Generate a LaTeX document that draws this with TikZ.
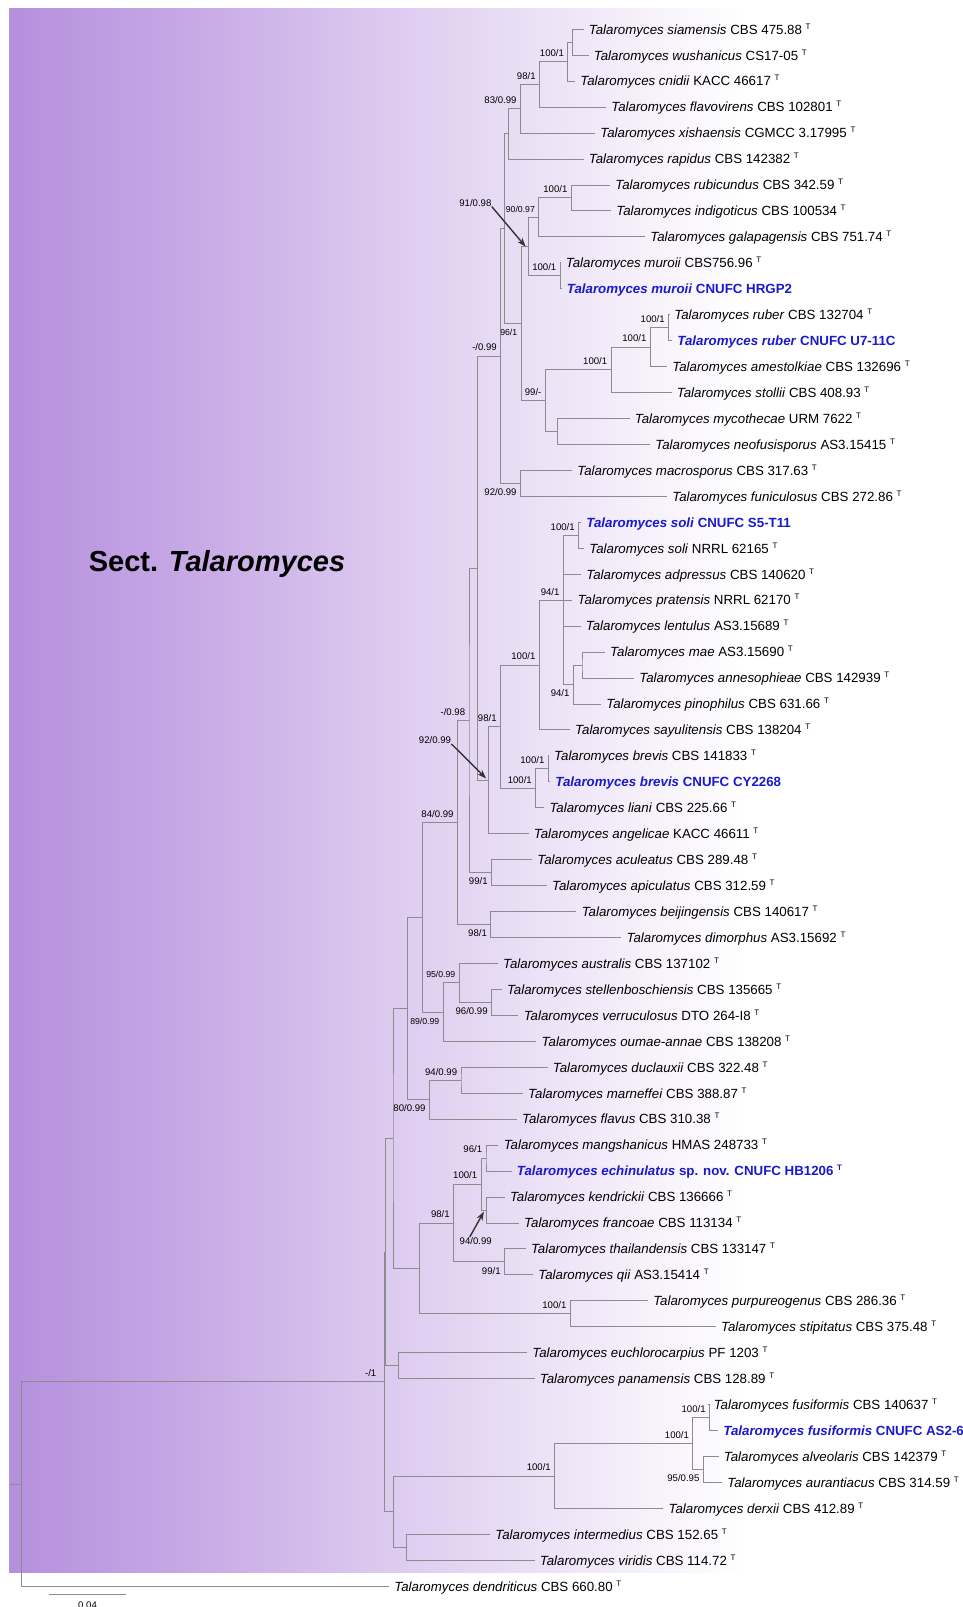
\documentclass[tikz,border=0pt]{standalone}
\usepackage{fontspec}
\setmainfont{Liberation Sans}
\usetikzlibrary{calc, arrows.meta}

\definecolor{novelblue}{RGB}{26, 26, 204}
\definecolor{sectpurple}{RGB}{182, 143, 221}
\definecolor{sectdeep}{RGB}{200, 170, 230}
\definecolor{sectmid}{RGB}{222, 205, 240}
\definecolor{sectpale}{RGB}{238, 228, 247}
\pgfdeclarehorizontalshading{sectfade}{100bp}{color(0bp)=(sectpurple); color(25bp)=(sectpurple); color(35bp)=(sectdeep); color(46bp)=(sectmid); color(54bp)=(sectpale); color(64bp)=(white); color(100bp)=(white)}

\newcommand{\typ}{\raisebox{2.5pt}{\fontsize{4}{4}\selectfont T}}
% clade: name, x, upper child, lower child
\newcommand{\clade}[4]{%
	\path let \p1=(#3), \p2=(#4) in coordinate (#1) at ({#2*0.5pt},{0.5*\y1+0.5*\y2});
	\draw[branch] (#3) -| (#1) |- (#4);}

\begin{document}
\begin{tikzpicture}[x=0.5pt, y=-0.5pt,
		branch/.style={draw=black!45, line width=0.5pt},
		leaf/.style={anchor=west, inner xsep=2.5pt, inner ysep=0pt, text height=4.76pt, text depth=0pt, font=\fontsize{6.65}{8}\selectfont},
		newleaf/.style={leaf, font=\fontsize{6.65}{8}\selectfont\bfseries, text=novelblue},
		suptxt/.style={font=\fontsize{4.8}{5}\selectfont, inner sep=0pt},
		supsm/.style={font=\fontsize{4.35}{5}\selectfont},
		sup/.style={suptxt, anchor=base east, xshift=-1.75pt},
		supa/.style={sup, yshift=2.6pt},
		supb/.style={sup, yshift=-6.1pt},
		pointer/.style={-{Stealth[length=4.5pt, width=3.2pt]}, line width=0.7pt, draw=black!80},
		sectlab/.style={font=\fontsize{14.5}{16}\selectfont\bfseries}
		]
		\useasboundingbox (0,0) rectangle (963,1607);
		\shade[shading=sectfade] (9,8) rectangle (955,1572);
		\node[sectlab] (sect) at (217,564) {Sect. \textit{Talaromyces}};
		
		% reference strains
		\foreach \r/\tx/\sp/\st in {1/588.5/siamensis/CBS 475.88, 2/593.5/wushanicus/CS17-05, 3/580/cnidii/KACC 46617,
			4/611/flavovirens/CBS 102801, 5/600/xishaensis/CGMCC 3.17995, 6/588.5/rapidus/CBS 142382,
			7/615/rubicundus/CBS 342.59, 8/616/indigoticus/CBS 100534, 9/650/galapagensis/CBS 751.74,
			10/565.5/muroii/CBS756.96, 12/674/ruber/CBS 132704, 14/672/amestolkiae/CBS 132696,
			15/676.5/stollii/CBS 408.93, 16/634.5/mycothecae/URM 7622, 17/655/neofusisporus/AS3.15415,
			18/577/macrosporus/CBS 317.63, 19/672/funiculosus/CBS 272.86, 21/589/soli/NRRL 62165,
			22/586/adpressus/CBS 140620, 23/577.3/pratensis/NRRL 62170, 24/585.5/lentulus/AS3.15689,
			25/609.8/mae/AS3.15690, 26/639/annesophieae/CBS 142939, 27/606/pinophilus/CBS 631.66,
			28/574.8/sayulitensis/CBS 138204, 29/553.8/brevis/CBS 141833, 31/549.1/liani/CBS 225.66,
			32/533.5/angelicae/KACC 46611, 33/537/aculeatus/CBS 289.48, 34/551.7/apiculatus/CBS 312.59,
			35/581.4/beijingensis/CBS 140617, 36/626.2/dimorphus/AS3.15692, 37/502.7/australis/CBS 137102,
			38/506.6/stellenboschiensis/CBS 135665, 39/523.4/verruculosus/DTO 264-I8, 40/541.3/oumae-annae/CBS 138208,
			41/552.5/duclauxii/CBS 322.48, 42/527.8/marneffei/CBS 388.87, 43/521.7/flavus/CBS 310.38,
			44/503.4/mangshanicus/HMAS 248733, 46/509.6/kendrickii/CBS 136666, 47/523.8/francoae/CBS 113134,
			48/530.6/thailandensis/CBS 133147, 49/538/qii/AS3.15414, 50/652.9/purpureogenus/CBS 286.36,
			51/720.7/stipitatus/CBS 375.48, 52/532/euchlorocarpius/PF 1203, 53/539.5/panamensis/CBS 128.89,
			54/713.4/fusiformis/CBS 140637, 56/723.5/alveolaris/CBS 142379, 57/727/aurantiacus/CBS 314.59,
			58/668.2/derxii/CBS 412.89, 59/495/intermedius/CBS 152.65, 60/539.5/viridis/CBS 114.72,
			61/394/dendriticus/CBS 660.80}{
			\node[leaf] (t\r) at ({\tx-5},{29.3+25.95*(\r-1)}) {\textit{Talaromyces \sp} \st\ \typ};
		}
		% isolates of this study
		\foreach \r/\tx/\sp/\st in {11/566.5/muroii/CNUFC HRGP2, 13/677/ruber/CNUFC U7-11C, 20/586/soli/CNUFC S5-T11,
			30/555/brevis/CNUFC CY2268, 45/516.5/echinulatus/sp. nov. CNUFC HB1206 \typ, 55/723/fusiformis/CNUFC AS2-6}{
			\node[newleaf] (t\r) at ({\tx-5},{29.3+25.95*(\r-1)}) {\textit{Talaromyces \sp} \st};
		}
		
		\clade{sw}{572.3}{t1.west}{t2.west}
		\clade{swc}{567.9}{sw}{t3.west}
		\clade{swcf}{539.5}{swc}{t4.west}
		\clade{swcfx}{520.4}{swcf}{t5.west}
		\clade{cA}{508.3}{swcfx}{t6.west}
		\clade{ri}{571.3}{t7.west}{t8.west}
		\clade{rig}{538.8}{ri}{t9.west}
		\clade{mm}{560.2}{t10.west}{t11.west}
		\clade{cB}{528.4}{rig}{mm}
		\clade{rr}{668.6}{t12.west}{t13.west}
		\clade{rra}{650.3}{rr}{t14.west}
		\clade{rras}{611.1}{rra}{t15.west}
		\clade{mn}{557.8}{t16.west}{t17.west}
		\clade{cC}{545.3}{rras}{mn}
		\clade{cD}{521.1}{cB}{cC}
		\clade{cE}{504.1}{cA}{cD}
		\clade{mf}{520.4}{t18.west}{t19.west}
		\clade{cF}{500.7}{cE}{mf}
		\clade{ss}{578.6}{t20.west}{t21.west}
		\clade{ma}{582}{t25.west}{t26.west}
		\clade{map}{573.4}{ma}{t27.west}
		\coordinate (cP) at (563.4,600.2);
		\draw[branch] (ss) -| (cP) |- (map);
		\foreach \r in {22,23,24}
			\draw[branch] (cP |- t\r.west) -- (t\r.west);
		\clade{ps}{539.3}{cP}{t28.west}
		\clade{bb}{548.3}{t29.west}{t30.west}
		\clade{bbl}{535.7}{bb}{t31.west}
		\clade{cH}{500.5}{ps}{bbl}
		\clade{cHa}{488.3}{cH}{t32.west}
		\clade{cG}{477.3}{cF}{cHa}
		\clade{aa}{491.5}{t33.west}{t34.west}
		\clade{cI}{469}{cG}{aa}
		\clade{bd}{490.8}{t35.west}{t36.west}
		\clade{cJ}{457.4}{cI}{bd}
		\clade{sv}{491.5}{t38.west}{t39.west}
		\clade{asv}{459.2}{t37.west}{sv}
		\clade{asvo}{443.2}{asv}{t40.west}
		\clade{cK}{422.8}{cJ}{asvo}
		\clade{dm}{461}{t41.west}{t42.west}
		\clade{dmf}{429.4}{dm}{t43.west}
		\clade{cL}{407.9}{cK}{dmf}
		\clade{me}{486}{t44.west}{t45.west}
		\clade{kf}{486.5}{t46.west}{t47.west}
		\clade{mekf}{481.1}{me}{kf}
		\clade{tq}{504.5}{t48.west}{t49.west}
		\clade{ech}{453.6}{mekf}{tq}
		\clade{pust}{570.3}{t50.west}{t51.west}
		\clade{cN}{419.8}{ech}{pust}
		\clade{cM}{393}{cL}{cN}
		\clade{ep}{398.7}{t52.west}{t53.west}
		\clade{cO}{385.8}{cM}{ep}
		\clade{ff}{709.5}{t54.west}{t55.west}
		\clade{aa2}{703.3}{t56.west}{t57.west}
		\clade{fa}{692.9}{ff}{aa2}
		\clade{fad}{554.7}{fa}{t58.west}
		\clade{iv}{406.6}{t59.west}{t60.west}
		\clade{cR}{393.5}{fad}{iv}
		\clade{cQ}{384.2}{cO}{cR}
		\clade{root}{21.5}{cQ}{t61.west}
		\coordinate (stub) at ([xshift=-5.75pt]root);
		\draw[branch] (stub) -- (root);
		
		% support values
		\node[supa] (s-swc) at (swc) {100/1};
		\node[supa] (s-swcf) at (swcf) {98/1};
		\node[supa] (s-swcfx) at (swcfx) {83/0.99};
		\node[supa] (s-ri) at (ri) {100/1};
		\node[supa, supsm] (s-rig) at (rig) {90/0.97};
		\node[supa] (s-mm) at (mm) {100/1};
		\node[supa] (s-rr) at (rr) {100/1};
		\node[supa] (s-rra) at (rra) {100/1};
		\node[supa] (s-rras) at (rras) {100/1};
		\node[supa] (s-cC) at (cC) {99/-};
		\node[supb, supsm] (s-cD) at (cD) {96/1};
		\node[supb] (s-mf) at (mf) {92/0.99};
		\node[supa] (s-cF) at (cF) {-/0.99};
		\node[supa] (s-ss) at (ss) {100/1};
		\node[supa] (s-cP) at (cP) {94/1};
		\node[supb] (s-map) at (map) {94/1};
		\node[supa] (s-ps) at (ps) {100/1};
		\node[supa] (s-bb) at (bb) {100/1};
		\node[supa] (s-bbl) at (bbl) {100/1};
		\node[supa] (s-cH) at (cH) {98/1};
		\node[supa] (s-cI) at (cI) {-/0.98};
		\node[supb] (s-aa) at (aa) {99/1};
		\node[supa] (s-cJ) at (cJ) {84/0.99};
		\node[supb] (s-bd) at (bd) {98/1};
		\node[supb] (s-sv) at (sv) {96/0.99};
		\node[supa, supsm] (s-asv) at (asv) {95/0.99};
		\node[supb, supsm] (s-asvo) at (asvo) {89/0.99};
		\node[supa] (s-dm) at (dm) {94/0.99};
		\node[supb] (s-dmf) at (dmf) {80/0.99};
		\node[supa] (s-me) at (me) {96/1};
		\node[supa] (s-mekf) at (mekf) {100/1};
		\node[supb] (s-tq) at (tq) {99/1};
		\node[supa] (s-ech) at (ech) {98/1};
		\node[supa] (s-pust) at (pust) {100/1};
		\node[supa] (s-ff) at (ff) {100/1};
		\node[supb] (s-aa2) at (aa2) {95/0.95};
		\node[supa] (s-fa) at (fa) {100/1};
		\node[supa] (s-fad) at (fad) {100/1};
		\node[supa, xshift=-2pt] (s-cQ) at (cQ) {-/1};
		
		\node[suptxt] (s-cB) at (475.4,202.7) {91/0.98};
		\draw[pointer] (s-cB.south east) -- ([xshift=-1.4pt]cB);
		\node[suptxt] (s-cHa) at (435,740) {92/0.99};
		\draw[pointer] (s-cHa.south east) -- ([xshift=-1.1pt,yshift=0.9pt]cHa);
		\node[suptxt] (s-kf) at (475.7,1241) {94/0.99};
		\draw[pointer] ([xshift=-3pt]s-kf.north) -- ([xshift=-1.3pt,yshift=-0.8pt]kf);
		
		% scale bar
		\coordinate (sbl) at (49,1594);
		\coordinate (sbr) at (126,1594);
		\draw[branch] (sbl) -- (sbr);
		\node[suptxt, anchor=north, yshift=-3.5pt] (sblab) at ($(sbl)!0.5!(sbr)$) {0.04};
	\end{tikzpicture}
\end{document}
